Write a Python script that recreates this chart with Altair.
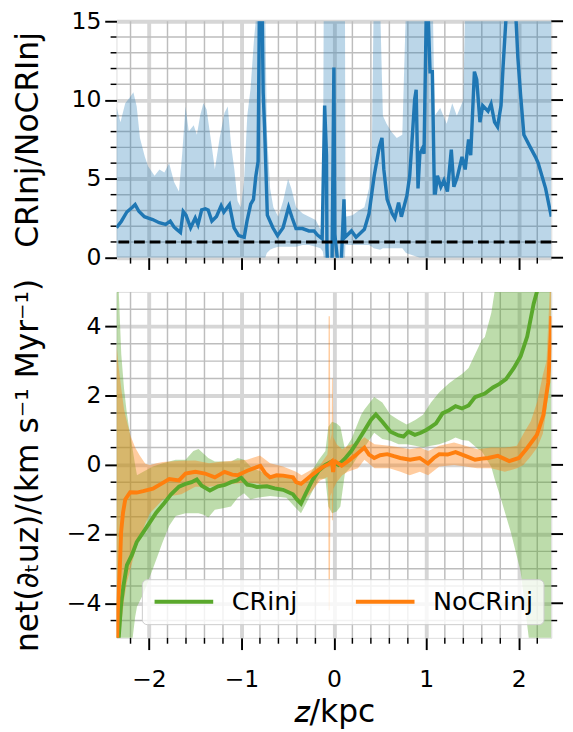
import altair as alt
import pandas as pd

# ---------------- data ----------------
# Top panel: ratio CRinj / NoCRinj
TOP_X = [-2.352, -2.30, -2.24, -2.18, -2.15, -2.11, -2.05, -2.00, -1.96, -1.89, -1.82, -1.77, -1.73, -1.70,
         -1.66, -1.63, -1.60, -1.55, -1.50, -1.47, -1.43, -1.39, -1.36, -1.32, -1.27, -1.22, -1.19, -1.13,
         -1.08, -1.03, -0.97, -0.94, -0.90, -0.87, -0.845, -0.82, -0.805, -0.785, -0.765, -0.75, -0.72,
         -0.66, -0.61, -0.55, -0.49, -0.45, -0.41, -0.34, -0.27, -0.215, -0.18, -0.127, -0.10, -0.08,
         -0.075, -0.07, -0.02, 0.0, 0.01, 0.04, 0.08, 0.109, 0.12, 0.19, 0.24, 0.33, 0.38, 0.436, 0.49,
         0.52, 0.54, 0.576, 0.63, 0.66, 0.70, 0.73, 0.79, 0.82, 0.845, 0.874, 0.89, 0.91, 0.93, 0.955,
         0.975, 1.006, 1.04, 1.065, 1.087, 1.098, 1.12, 1.157, 1.19, 1.228, 1.27, 1.298, 1.334, 1.386,
         1.42, 1.457, 1.48, 1.52, 1.545, 1.58, 1.61, 1.667, 1.70, 1.738, 1.77, 1.808, 1.83, 1.865, 1.90,
         1.94, 1.967, 1.99, 2.02, 2.055, 2.125, 2.18, 2.21, 2.29, 2.352]
TOP_Y = [1.9, 2.3, 2.9, 3.2, 3.37, 2.95, 2.6, 2.5, 2.42, 2.22, 2.11, 2.32, 1.95, 1.8,
         1.6, 2.93, 2.7, 1.9, 2.52, 2.1, 3.03, 3.1, 3.03, 2.32, 2.62, 3.3, 2.9, 3.37,
         1.9, 1.4, 1.3, 2.32, 3.4, 3.7, 5.16, 6.1, 16.5, 20.0, 10.45, 8.3, 2.7,
         1.9, 1.4, 1.9, 3.2, 2.5, 1.85, 1.85, 1.7, 1.7, 1.45, 1.2, 9.65, 6.5,
         0.6, -0.2, -0.2, 12.07, 1.5, -0.2, -0.2, 3.7, 1.3, 1.7, 1.3, 1.8, 2.8, 5.2, 7.0,
         7.6, 5.6, 3.7, 2.8, 2.5, 3.5, 2.6, 3.95, 5.2, 7.4, 10.06, 10.66, 4.4, 6.6, 6.9,
         6.6, 18.0, 11.8, 11.8, 4.1, 4.1, 5.2, 4.5, 4.9, 4.2, 6.85, 4.5, 5.1, 6.4,
         5.6, 7.5, 6.5, 11.8, 11.3, 8.6, 9.65, 9.3, 9.75, 8.6, 8.3, 9.65, 12.1, 15.5, 17.0,
         16.5, 15.5, 12.7, 10.3, 7.8, 7.0, 6.4, 6.0, 4.4, 2.6]

BAND_X = [-2.352, -2.309, -2.257, -2.204, -2.169, -2.133, -2.098, -2.045, -2.010, -1.940, -1.887, -1.834,
          -1.782, -1.729, -1.676, -1.641, -1.605, -1.570, -1.517, -1.482, -1.447, -1.412, -1.377, -1.324,
          -1.288, -1.236, -1.183, -1.148, -1.113, -1.077, -1.042, -1.007, -0.972, -0.937, -0.902, -0.866,
          -0.831, -0.743, -0.725, -0.690, -0.655, -0.602, -0.549, -0.496, -0.461, -0.409, -0.338, -0.268,
          -0.197, -0.145, -0.120, -0.110, 0.120, 0.125, 0.20, 0.27, 0.33, 0.38, 0.41, 0.43, 0.50, 0.53,
          0.57, 0.62, 0.68, 0.74, 0.78, 0.93, 1.07, 1.09, 1.15, 1.22, 1.28, 1.33, 1.40, 1.42, 2.352]
BAND_HI = [9.6, 8.6, 9.8, 10.2, 10.5, 9.6, 7.6, 6.4, 5.8, 5.2, 5.6, 5.4,
           6.0, 4.8, 4.2, 6.6, 9.6, 8.0, 8.4, 7.8, 9.0, 9.8, 9.4, 7.2,
           5.6, 7.6, 9.2, 9.6, 7.2, 5.6, 3.6, 3.2, 4.8, 9.0, 10.7, 13.7,
           16, 16, 8.0, 4.4, 3.2, 2.6, 3.6, 5.0, 4.4, 3.2, 2.8, 2.6,
           2.4, 1.8, 1.8, 16, 16, 2.6, 2.7, 3.0, 3.2, 4.4, 6.6, 16, 16, 9.0,
           8.5, 8.0, 7.6, 7.8, 16, 16, 16, 9.0, 9.5, 8.5, 9.8, 9.0, 10.0, 16, 16]
BAND_LO = [0, 0, 0, 0, 0, 0, 0, 0, 0, 0, 0, 0,
           0, 0, 0, 0, 0, 0, 0, 0, 0, 0, 0, 0,
           0, 0, 0, 0, 0, 0, 0, 0, 0, 0, 0, 0,
           0, 0, 0.3, 0.5, 0.6, 0.7, 0.7, 0.7, 0.7, 0.7, 0.8, 0.8,
           0.7, 0.6, 0.4, 0, 0, 0.8, 0.8, 0.8, 0.8, 0.8, 0.7, 0.6, 0.5, 0.6,
           0.6, 0.6, 0.6, 0.6, 0.3, 0, 0, 0, 0, 0, 0, 0, 0, 0, 0]
REF_LEVEL = [1.0]

# Bottom panel: net(d_t u_z)
GREEN_X = [-2.352, -2.327, -2.302, -2.274, -2.239, -2.186, -2.133, -2.063, -1.993, -1.922, -1.834, -1.764,
           -1.676, -1.605, -1.54, -1.483, -1.43, -1.341, -1.253, -1.18, -1.113, -1.05, -1.007, -0.937,
           -0.88, -0.831, -0.725, -0.64, -0.549, -0.443, -0.40, -0.356, -0.303, -0.232, -0.162, -0.092,
           -0.021, 0.049, 0.119, 0.19, 0.26, 0.348, 0.40, 0.454, 0.524, 0.612, 0.70, 0.753, 0.806, 0.876,
           0.94, 0.999, 1.05, 1.105, 1.175, 1.246, 1.316, 1.386, 1.457, 1.527, 1.633, 1.721, 1.791, 1.862,
           1.949, 2.02, 2.091, 2.161, 2.196, 2.352]
GREEN_Y = [-5.8, -4.97, -4.03, -3.46, -2.9, -2.61, -2.23, -1.95, -1.67, -1.38, -1.1, -0.86,
           -0.63, -0.55, -0.5, -0.42, -0.6, -0.74, -0.62, -0.58, -0.5, -0.45, -0.36, -0.57,
           -0.6, -0.64, -0.62, -0.68, -0.72, -0.85, -1.0, -1.12, -0.82, -0.44, -0.16, 0.0,
           0.1, 0.0, 0.18, 0.41, 0.69, 1.07, 1.3, 1.46, 1.25, 0.96, 0.85, 0.82, 0.96, 0.87,
           0.93, 1.01, 1.1, 1.2, 1.49, 1.58, 1.7, 1.63, 1.72, 1.96, 2.06, 2.24, 2.34, 2.48,
           2.81, 3.14, 3.71, 4.66, 5.0, 7.5]

ORANGE_X = [-2.352, -2.344, -2.337, -2.316, -2.302, -2.281, -2.257, -2.204, -2.133, -2.063, -1.958, -1.869,
            -1.781, -1.676, -1.605, -1.499, -1.394, -1.288, -1.183, -1.10, -1.042, -0.937, -0.87, -0.796,
            -0.74, -0.691, -0.62, -0.549, -0.443, -0.409, -0.356, -0.268, -0.197, -0.127, -0.057, -0.021,
            -0.008, 0.004, 0.014, 0.084, 0.154, 0.225, 0.33, 0.38, 0.436, 0.50, 0.577, 0.65, 0.718, 0.824,
            0.929, 1.017, 1.08, 1.14, 1.23, 1.316, 1.421, 1.527, 1.60, 1.668, 1.774, 1.897, 2.002, 2.091,
            2.196, 2.266, 2.319, 2.347, 2.352]
ORANGE_Y = [-5.8, -5.0, -4.2, -3.0, -1.95, -1.38, -1.0, -0.79, -0.8, -0.76, -0.69, -0.55,
            -0.41, -0.45, -0.25, -0.2, -0.25, -0.36, -0.2, -0.28, -0.3, -0.17, -0.1, -0.03,
            -0.25, -0.36, -0.3, -0.31, -0.36, -0.5, -0.55, -0.36, -0.21, -0.07, 0.02, 0.1,
            -0.21, 0.08, 0.1, -0.02, 0.11, 0.26, 0.5, 0.3, 0.2, 0.28, 0.31, 0.25, 0.2, 0.15,
            0.2, 0.04, 0.2, 0.31, 0.3, 0.37, 0.26, 0.15, 0.18, 0.2, 0.26, 0.11, 0.2, 0.49,
            0.87, 1.44, 2.39, 3.8, 4.3]

GB_X = [-2.352, -2.33, -2.30, -2.27, -2.24, -2.20, -2.186, -2.15, -2.13, -2.063, -1.958, -1.852, -1.781,
        -1.711, -1.605, -1.52, -1.464, -1.40, -1.359, -1.288, -1.20, -1.113, -1.04, -0.972, -0.902, -0.831,
        -0.69, -0.514, -0.409, -0.356, -0.268, -0.163, -0.092, -0.06, -0.02, 0.03, 0.07, 0.119, 0.19,
        0.295, 0.33, 0.436, 0.524, 0.612, 0.70, 0.788, 0.88, 0.964, 1.05, 1.14, 1.246, 1.316, 1.386,
        1.457, 1.563, 1.598, 1.633, 1.703, 1.738, 1.809, 1.914, 2.02, 2.108, 2.20, 2.352]
GB_HI = [6.0, 5.2, 3.2, 2.2, 1.5, 0.8, 0.6, 0.0, -0.3, -0.2, -0.05, 0.05, 0.1,
         0.15, 0.15, 0.4, 0.46, 0.3, 0.2, 0.1, 0.1, 0.1, 0.2, 0.15, -0.05, -0.15,
         -0.3, -0.35, -0.45, -0.6, -0.3, 0.15, 0.4, 1.1, 1.25, 1.2, 1.1, 0.45, 0.75,
         1.45, 1.6, 1.96, 1.8, 1.45, 1.3, 1.17, 1.3, 1.45, 1.8, 2.1, 2.36, 2.5, 2.63,
         2.8, 3.4, 3.6, 3.7, 4.4, 5.0, 5.8, 6.5, 7.0, 7.0, 8.0, 9.0]
GB_LO = [-6.0, -6.0, -6.0, -6.0, -6.0, -5.8, -5.2, -4.4, -4.1, -3.74, -3.0, -2.23, -1.76,
         -1.48, -1.4, -1.4, -1.4, -1.45, -1.52, -1.3, -1.25, -1.2, -0.95, -0.82, -1.0, -0.95,
         -0.9, -0.95, -1.25, -1.4, -0.95, -0.4, -0.4, -1.2, -1.4, -1.35, -1.2, -0.25, -0.05,
         0.4, 0.5, 0.93, 0.75, 0.7, 0.6, 0.6, 0.55, 0.5, 0.55, 0.6, 0.7, 0.79, 0.72,
         0.7, 0.45, 0.4, 0.25, -0.06, -0.4, -1.0, -1.95, -3.08, -5.0, -6.5, -7.0]

OB_X = [-2.352, -2.33, -2.30, -2.27, -2.24, -2.20, -2.15, -2.10, -2.04, -1.99, -1.92, -1.85, -1.78,
        -1.65, -1.50, -1.35, -1.25, -1.10, -0.94, -0.80, -0.69, -0.55, -0.41, -0.35, -0.25, -0.15,
        -0.07, -0.061, -0.057, -0.044, -0.038, -0.025, -0.021, -0.012, -0.006, 0.03, 0.09, 0.15,
        0.26, 0.33, 0.44, 0.60, 0.72, 0.82, 0.93, 1.02, 1.14, 1.30, 1.42, 1.55, 1.70, 1.85, 1.98,
        2.05, 2.13, 2.20, 2.26, 2.30, 2.352]
OB_HI = [3.5, 2.87, 2.2, 1.6, 1.26, 0.84, 0.5, 0.27, 0.03, 0.0, 0.05, 0.08, 0.1,
         0.12, 0.13, 0.05, 0.08, 0.12, 0.15, 0.27, 0.05, -0.05, -0.2, -0.3, -0.15, 0.0,
         0.3, 0.6, 4.3, 4.3, 0.7, 0.9, 2.5, 2.5, 0.8, 0.6, 0.45, 0.55,
         0.65, 0.8, 0.6, 0.55, 0.5, 0.45, 0.5, 0.4, 0.55, 0.65, 0.55, 0.45, 0.5, 0.5, 0.55,
         0.9, 1.26, 1.83, 2.6, 3.0, 6.0]
OB_LO = [-6.0, -5.6, -4.6, -3.9, -3.4, -3.0, -2.5, -2.1, -1.7, -1.4, -1.2, -1.0, -0.91,
         -0.85, -0.63, -0.63, -0.6, -0.55, -0.5, -0.55, -0.7, -0.65, -0.91, -1.1, -0.8, -0.45,
         -0.35, -0.8, -4.2, -4.2, -0.9, -0.8, -1.6, -1.6, -0.7, -0.5, -0.3, -0.2,
         -0.1, 0.15, -0.1, -0.1, -0.2, -0.3, -0.2, -0.3, -0.05, 0.0, -0.05, -0.1, -0.1, -0.2, -0.1,
         0.0, 0.25, 0.5, 0.9, 1.6, 3.0]

SERIES = ["CRinj", "NoCRinj"]

# tick positions
X_MAJOR = [-2, -1, 0, 1, 2]
X_MINOR = [-2.2, -1.8, -1.6, -1.4, -1.2, -0.8, -0.6, -0.4, -0.2, 0.2, 0.4, 0.6, 0.8, 1.2, 1.4, 1.6, 1.8, 2.2]
Y1_MAJOR = [0, 5, 10, 15]
Y1_MINOR = [1, 2, 3, 4, 6, 7, 8, 9, 11, 12, 13, 14]
Y2_MAJOR = [-4, -2, 0, 2, 4]
Y2_MINOR = [-4.5, -3.5, -3, -2.5, -1.5, -1, -0.5, 0.5, 1, 1.5, 2.5, 3, 3.5, 4.5]

# ---------------- styling ----------------
W = 445
H1 = 242
H2 = 354
BLUE = "#1f77b4"
GREEN = "#5aa82c"
ORANGE = "#ff7f0e"
MAJOR_GRID = "#d6d6d6"
MINOR_GRID = "#bdbdbd"
FONT = "DejaVu Sans"
XDOM = [-2.352, 2.352]

xs = alt.Scale(domain=XDOM, nice=False, zero=False)
ys1 = alt.Scale(domain=[0, 15], nice=False, zero=False)
ys2 = alt.Scale(domain=[-5, 5], nice=False, zero=False)


def x_axis(show_labels):
    kw = dict(values=X_MAJOR, tickSize=12, tickWidth=2, tickColor="black", domain=False,
              grid=True, gridColor=MAJOR_GRID, gridWidth=4)
    if show_labels:
        return alt.Axis(labels=True, labelFontSize=24, labelFont=FONT, labelColor="black", labelPadding=19,
                        title="𝑧/kpc", titleFontSize=32, titleFont=FONT, titleFontWeight="normal",
                        titleColor="black", titlePadding=6, **kw)
    return alt.Axis(labels=False, title="", **kw)


def y_axis(values, title):
    return alt.Axis(values=values, tickSize=12, tickWidth=2, tickColor="black", domain=False,
                    grid=True, gridColor=MAJOR_GRID, gridWidth=4,
                    labelFontSize=24, labelFont=FONT, labelColor="black", labelPadding=4,
                    title=title, titleFontSize=32, titleFont=FONT, titleFontWeight="normal",
                    titleColor="black", titleX=-74)


def panel_layers(ymin, ymaj, yscale, height, xax, yax):
    dxm = pd.DataFrame({"x": X_MINOR})
    dym = pd.DataFrame({"y": ymin})
    dyM = pd.DataFrame({"y": ymaj})
    X = lambda f: alt.X(f, scale=xs, axis=xax)
    Y = lambda f: alt.Y(f, scale=yscale, axis=yax)
    layers = [
        alt.Chart(dxm).mark_rule(color=MINOR_GRID, strokeWidth=1.5).encode(x=X("x:Q")),
        alt.Chart(dym).mark_rule(color=MINOR_GRID, strokeWidth=1.5).encode(y=Y("y:Q")),
        alt.Chart(dym).mark_rule(color="black", strokeWidth=1.5).encode(
            y=Y("y:Q"), x=alt.value(-6), x2=alt.value(0)),
        alt.Chart(dym).mark_rule(color="black", strokeWidth=1.5).encode(
            y=Y("y:Q"), x=alt.value(W), x2=alt.value(W + 6)),
        alt.Chart(dyM).mark_rule(color="black", strokeWidth=2).encode(
            y=Y("y:Q"), x=alt.value(W), x2=alt.value(W + 12)),
        alt.Chart(dxm).mark_rule(color="black", strokeWidth=1.5).encode(
            x=X("x:Q"), y=alt.value(height), y2=alt.value(height + 6)),
    ]
    return layers, X, Y


# ---------------- top panel ----------------
AX_X1 = x_axis(False)
AX_Y1 = y_axis(Y1_MAJOR, "CRInj/NoCRInj")
base1, X1, Y1 = panel_layers(Y1_MINOR, Y1_MAJOR, ys1, H1, AX_X1, AX_Y1)

df_tl = pd.DataFrame({"x": TOP_X, "y": TOP_Y})
df_tb = pd.DataFrame({"x": BAND_X, "hi": BAND_HI, "lo": BAND_LO})
df_ref = pd.DataFrame({"y": REF_LEVEL})

top_band = alt.Chart(df_tb).mark_area(color=BLUE, fillOpacity=0.3, clip=True).encode(
    x=X1("x:Q"), y=Y1("hi:Q"), y2="lo:Q")
top_line = alt.Chart(df_tl).mark_line(color=BLUE, strokeWidth=3.5, clip=True).encode(
    x=X1("x:Q"), y=Y1("y:Q"))
top_ref = alt.Chart(df_ref).mark_rule(color="black", strokeWidth=3, strokeDash=[11, 5]).encode(
    y=Y1("y:Q"))

top = alt.layer(*base1, top_band, top_line, top_ref).properties(width=W, height=H1)

# ---------------- bottom panel ----------------
AX_X2 = x_axis(True)
AX_Y2 = y_axis(Y2_MAJOR, "net(∂ₜuᴢ)/(km s⁻¹ Myr⁻¹)")
base2, X2, Y2 = panel_layers(Y2_MINOR, Y2_MAJOR, ys2, H2, AX_X2, AX_Y2)

df_gb = pd.DataFrame({"x": GB_X, "hi": GB_HI, "lo": GB_LO})
df_ob = pd.DataFrame({"x": OB_X, "hi": OB_HI, "lo": OB_LO})
df_lines = pd.concat([
    pd.DataFrame({"x": GREEN_X, "y": GREEN_Y, "series": SERIES[0]}),
    pd.DataFrame({"x": ORANGE_X, "y": ORANGE_Y, "series": SERIES[1]}),
], ignore_index=True)

band_g = alt.Chart(df_gb).mark_area(color=GREEN, fillOpacity=0.4, clip=True).encode(
    x=X2("x:Q"), y=Y2("hi:Q"), y2="lo:Q")
band_o = alt.Chart(df_ob).mark_area(color=ORANGE, fillOpacity=0.4, clip=True).encode(
    x=X2("x:Q"), y=Y2("hi:Q"), y2="lo:Q")

lines = alt.Chart(df_lines).mark_line(strokeWidth=4, clip=True).encode(
    x=X2("x:Q"), y=Y2("y:Q"),
    color=alt.Color("series:N", scale=alt.Scale(domain=SERIES, range=[GREEN, ORANGE]),
                    legend=alt.Legend(orient="none", legendX=26, legendY=571, direction="horizontal",
                                      title=None, symbolType="M-3,0H3", symbolSize=400,
                                      symbolOffset=20, symbolStrokeWidth=4, labelFontSize=26,
                                      labelFont=FONT, labelColor="black", labelOffset=36,
                                      columnPadding=51, padding=10, cornerRadius=5, zindex=1,
                                      fillColor="rgba(255,255,255,0.8)", strokeColor="#cccccc")))

bottom = alt.layer(*base2, band_g, band_o, lines).properties(width=W, height=H2)

chart = alt.vconcat(top, bottom, spacing=6).properties(
    padding={"left": 3, "top": -8, "right": 0, "bottom": 4}
).configure_view(stroke="black", strokeWidth=2).configure(font=FONT)

chart.save("out.html", embed_options={"renderer": "svg", "actions": False})
